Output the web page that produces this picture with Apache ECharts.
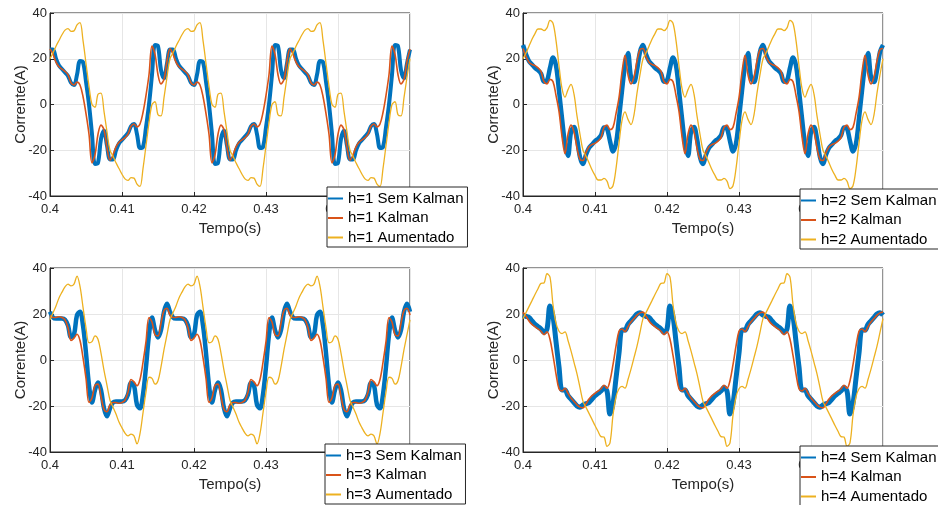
<!DOCTYPE html>
<html>
<head>
<meta charset="utf-8">
<script src="https://cdn.jsdelivr.net/npm/echarts@6/dist/echarts.min.js"></script>
<style>
html,body{margin:0;padding:0;background:#fff;}
#chart{width:938px;height:505px;}
</style>
</head>
<body>
<div id="chart"></div>
<script>
// Time sampling (s)
const tStart = 0.4;
const tStep = 1 / 2400;

// Tick labels
const xTickLabels = ['0.4', '0.41', '0.42', '0.43', '0.44', '0.45'];
const yTickLabels = ['-40', '-20', '0', '20', '40'];

const seriesNames = [
  ['h=1 Sem Kalman', 'h=1 Kalman', 'h=1 Aumentado'],
  ['h=2 Sem Kalman', 'h=2 Kalman', 'h=2 Aumentado'],
  ['h=3 Sem Kalman', 'h=3 Kalman', 'h=3 Aumentado'],
  ['h=4 Sem Kalman', 'h=4 Kalman', 'h=4 Aumentado']
];

// ---- h=1 ----
const semKalman1 = [
24, 24, 20, 17, 15.5, 14, 12.5, 9.5, 8.5, 13, 19, 18.5, 10, 0, -13, -26, -25.5, -15, -11.5, -18,
-24, -24, -20, -17, -15.5, -14, -12.5, -9.5, -8.5, -13, -19, -18.5, -10, 0, 13, 26, 25.5, 15, 11.5, 18,
24, 24, 20, 17, 15.5, 14, 12.5, 9.5, 8.5, 13, 19, 18.5, 10, 0, -13, -26, -25.5, -15, -11.5, -18,
-24, -24, -20, -17, -15.5, -14, -12.5, -9.5, -8.5, -13, -19, -18.5, -10, 0, 13, 26, 25.5, 15, 11.5, 18,
24, 24, 20, 17, 15.5, 14, 12.5, 9.5, 8.5, 13, 19, 18.5, 10, 0, -13, -26, -25.5, -15, -11.5, -18,
-24, -24, -20, -17, -15.5, -14, -12.5, -9.5, -8.5, -13, -19, -18.5, -10, 0, 13, 26, 25.5, 15, 11.5, 18,
24];
const kalman1 = [
24.3, 22, 18.5, 16.5, 15.5, 14.5, 13, 9.5, 8.5, 9.8, 8.5, 3.5, -4, -13, -25.5, -22, -13, -9, -11, -19,
-24.3, -22, -18.5, -16.5, -15.5, -14.5, -13, -9.5, -8.5, -9.8, -8.5, -3.5, 4, 13, 25.5, 22, 13, 9, 11, 19,
24.3, 22, 18.5, 16.5, 15.5, 14.5, 13, 9.5, 8.5, 9.8, 8.5, 3.5, -4, -13, -25.5, -22, -13, -9, -11, -19,
-24.3, -22, -18.5, -16.5, -15.5, -14.5, -13, -9.5, -8.5, -9.8, -8.5, -3.5, 4, 13, 25.5, 22, 13, 9, 11, 19,
24.3, 22, 18.5, 16.5, 15.5, 14.5, 13, 9.5, 8.5, 9.8, 8.5, 3.5, -4, -13, -25.5, -22, -13, -9, -11, -19,
-24.3, -22, -18.5, -16.5, -15.5, -14.5, -13, -9.5, -8.5, -9.8, -8.5, -3.5, 4, 13, 25.5, 22, 13, 9, 11, 19,
24.3];
const aumentado1 = [
20, 22.5, 25.5, 28, 30.5, 32.5, 33.2, 32, 32.2, 34.8, 35.8, 28, 18, 8, 0, -1.2, 4.5, 5, -3, -12,
-20, -22.5, -25.5, -28, -30.5, -32.5, -33.2, -32, -32.2, -34.8, -35.8, -28, -18, -8, 0, 1.2, -4.5, -5, 3, 12,
20, 22.5, 25.5, 28, 30.5, 32.5, 33.2, 32, 32.2, 34.8, 35.8, 28, 18, 8, 0, -1.2, 4.5, 5, -3, -12,
-20, -22.5, -25.5, -28, -30.5, -32.5, -33.2, -32, -32.2, -34.8, -35.8, -28, -18, -8, 0, 1.2, -4.5, -5, 3, 12,
20, 22.5, 25.5, 28, 30.5, 32.5, 33.2, 32, 32.2, 34.8, 35.8, 28, 18, 8, 0, -1.2, 4.5, 5, -3, -12,
-20, -22.5, -25.5, -28, -30.5, -32.5, -33.2, -32, -32.2, -34.8, -35.8, -28, -18, -8, 0, 1.2, -4.5, -5, 3, 12,
20];

// ---- h=2 ----
const semKalman2 = [
26, 22, 19, 17.5, 16, 15, 13.5, 10, 10.5, 16, 20.5, 17, 6, -6, -17, -22.5, -12, -9.8, -15, -23,
-26, -22, -19, -17.5, -16, -15, -13.5, -10, -10.5, -16, -20.5, -17, -6, 6, 17, 22.5, 12, 9.8, 15, 23,
26, 22, 19, 17.5, 16, 15, 13.5, 10, 10.5, 16, 20.5, 17, 6, -6, -17, -22.5, -12, -9.8, -15, -23,
-26, -22, -19, -17.5, -16, -15, -13.5, -10, -10.5, -16, -20.5, -17, -6, 6, 17, 22.5, 12, 9.8, 15, 23,
26, 22, 19, 17.5, 16, 15, 13.5, 10, 10.5, 16, 20.5, 17, 6, -6, -17, -22.5, -12, -9.8, -15, -23,
-26, -22, -19, -17.5, -16, -15, -13.5, -10, -10.5, -16, -20.5, -17, -6, 6, 17, 22.5, 12, 9.8, 15, 23,
26];
const kalman2 = [
24.5, 21, 18.5, 17.5, 17, 16, 14.5, 10, 9, 11, 10, 4, -3, -14, -21.5, -13, -9, -12, -19, -24,
-24.5, -21, -18.5, -17.5, -17, -16, -14.5, -10, -9, -11, -10, -4, 3, 14, 21.5, 13, 9, 12, 19, 24,
24.5, 21, 18.5, 17.5, 17, 16, 14.5, 10, 9, 11, 10, 4, -3, -14, -21.5, -13, -9, -12, -19, -24,
-24.5, -21, -18.5, -17.5, -17, -16, -14.5, -10, -9, -11, -10, -4, 3, 14, 21.5, 13, 9, 12, 19, 24,
24.5, 21, 18.5, 17.5, 17, 16, 14.5, 10, 9, 11, 10, 4, -3, -14, -21.5, -13, -9, -12, -19, -24,
-24.5, -21, -18.5, -17.5, -17, -16, -14.5, -10, -9, -11, -10, -4, 3, 14, 21.5, 13, 9, 12, 19, 24,
24.5];
const aumentado2 = [
20, 22.5, 25.5, 28.5, 31, 33, 33, 32.3, 33.5, 36.8, 35.5, 28, 17, 7, 3.2, 6.5, 8.8, 4.5, -5, -13,
-20, -22.5, -25.5, -28.5, -31, -33, -33, -32.3, -33.5, -36.8, -35.5, -28, -17, -7, -3.2, -6.5, -8.8, -4.5, 5, 13,
20, 22.5, 25.5, 28.5, 31, 33, 33, 32.3, 33.5, 36.8, 35.5, 28, 17, 7, 3.2, 6.5, 8.8, 4.5, -5, -13,
-20, -22.5, -25.5, -28.5, -31, -33, -33, -32.3, -33.5, -36.8, -35.5, -28, -17, -7, -3.2, -6.5, -8.8, -4.5, 5, 13,
20, 22.5, 25.5, 28.5, 31, 33, 33, 32.3, 33.5, 36.8, 35.5, 28, 17, 7, 3.2, 6.5, 8.8, 4.5, -5, -13,
-20, -22.5, -25.5, -28.5, -31, -33, -33, -32.3, -33.5, -36.8, -35.5, -28, -17, -7, -3.2, -6.5, -8.8, -4.5, 5, 13,
20];

// ---- h=3 ----
const semKalman3 = [
21, 18.5, 18, 18, 18, 17.5, 15, 10, 11, 19.5, 21, 15, 3, -11, -18.5, -13, -9.8, -13, -21, -24.5,
-21, -18.5, -18, -18, -18, -17.5, -15, -10, -11, -19.5, -21, -15, -3, 11, 18.5, 13, 9.8, 13, 21, 24.5,
21, 18.5, 18, 18, 18, 17.5, 15, 10, 11, 19.5, 21, 15, 3, -11, -18.5, -13, -9.8, -13, -21, -24.5,
-21, -18.5, -18, -18, -18, -17.5, -15, -10, -11, -19.5, -21, -15, -3, 11, 18.5, 13, 9.8, 13, 21, 24.5,
21, 18.5, 18, 18, 18, 17.5, 15, 10, 11, 19.5, 21, 15, 3, -11, -18.5, -13, -9.8, -13, -21, -24.5,
-21, -18.5, -18, -18, -18, -17.5, -15, -10, -11, -19.5, -21, -15, -3, 11, 18.5, 13, 9.8, 13, 21, 24.5,
21];
const kalman3 = [
19.5, 18.5, 18.5, 18.8, 18.5, 17.5, 14, 8.5, 9.5, 11.2, 8.5, 1, -8, -18.5, -16.5, -11, -10.5, -16, -21.5, -22.5,
-19.5, -18.5, -18.5, -18.8, -18.5, -17.5, -14, -8.5, -9.5, -11.2, -8.5, -1, 8, 18.5, 16.5, 11, 10.5, 16, 21.5, 22.5,
19.5, 18.5, 18.5, 18.8, 18.5, 17.5, 14, 8.5, 9.5, 11.2, 8.5, 1, -8, -18.5, -16.5, -11, -10.5, -16, -21.5, -22.5,
-19.5, -18.5, -18.5, -18.8, -18.5, -17.5, -14, -8.5, -9.5, -11.2, -8.5, -1, 8, 18.5, 16.5, 11, 10.5, 16, 21.5, 22.5,
19.5, 18.5, 18.5, 18.8, 18.5, 17.5, 14, 8.5, 9.5, 11.2, 8.5, 1, -8, -18.5, -16.5, -11, -10.5, -16, -21.5, -22.5,
-19.5, -18.5, -18.5, -18.8, -18.5, -17.5, -14, -8.5, -9.5, -11.2, -8.5, -1, 8, 18.5, 16.5, 11, 10.5, 16, 21.5, 22.5,
19.5];
const aumentado3 = [
17.5, 20.5, 23.5, 27, 29.5, 31.8, 33, 32.2, 33, 36.5, 32, 23, 14, 7.5, 8, 10.5, 9, 3, -4.5, -11,
-17.5, -20.5, -23.5, -27, -29.5, -31.8, -33, -32.2, -33, -36.5, -32, -23, -14, -7.5, -8, -10.5, -9, -3, 4.5, 11,
17.5, 20.5, 23.5, 27, 29.5, 31.8, 33, 32.2, 33, 36.5, 32, 23, 14, 7.5, 8, 10.5, 9, 3, -4.5, -11,
-17.5, -20.5, -23.5, -27, -29.5, -31.8, -33, -32.2, -33, -36.5, -32, -23, -14, -7.5, -8, -10.5, -9, -3, 4.5, 11,
17.5, 20.5, 23.5, 27, 29.5, 31.8, 33, 32.2, 33, 36.5, 32, 23, 14, 7.5, 8, 10.5, 9, 3, -4.5, -11,
-17.5, -20.5, -23.5, -27, -29.5, -31.8, -33, -32.2, -33, -36.5, -32, -23, -14, -7.5, -8, -10.5, -9, -3, 4.5, 11,
17.5];

// ---- h=4 ----
const semKalman4 = [
19.5, 19, 18.5, 17, 15.5, 14.5, 13.5, 12, 13.5, 23.5, 19, 8, -3, -13, -13, -15.5, -17, -18.5, -20, -20.5,
-19.5, -19, -18.5, -17, -15.5, -14.5, -13.5, -12, -13.5, -23.5, -19, -8, 3, 13, 13, 15.5, 17, 18.5, 20, 20.5,
19.5, 19, 18.5, 17, 15.5, 14.5, 13.5, 12, 13.5, 23.5, 19, 8, -3, -13, -13, -15.5, -17, -18.5, -20, -20.5,
-19.5, -19, -18.5, -17, -15.5, -14.5, -13.5, -12, -13.5, -23.5, -19, -8, 3, 13, 13, 15.5, 17, 18.5, 20, 20.5,
19.5, 19, 18.5, 17, 15.5, 14.5, 13.5, 12, 13.5, 23.5, 19, 8, -3, -13, -13, -15.5, -17, -18.5, -20, -20.5,
-19.5, -19, -18.5, -17, -15.5, -14.5, -13.5, -12, -13.5, -23.5, -19, -8, 3, 13, 13, 15.5, 17, 18.5, 20, 20.5,
19.5];
const kalman4 = [
20.8, 19, 17, 15.5, 14.5, 13.5, 12.5, 11, 12.3, 9, 2, -6, -12.5, -13.5, -12.3, -14.5, -16.5, -18, -19.5, -20.5,
-20.8, -19, -17, -15.5, -14.5, -13.5, -12.5, -11, -12.3, -9, -2, 6, 12.5, 13.5, 12.3, 14.5, 16.5, 18, 19.5, 20.5,
20.8, 19, 17, 15.5, 14.5, 13.5, 12.5, 11, 12.3, 9, 2, -6, -12.5, -13.5, -12.3, -14.5, -16.5, -18, -19.5, -20.5,
-20.8, -19, -17, -15.5, -14.5, -13.5, -12.5, -11, -12.3, -9, -2, 6, 12.5, 13.5, 12.3, 14.5, 16.5, 18, 19.5, 20.5,
20.8, 19, 17, 15.5, 14.5, 13.5, 12.5, 11, 12.3, 9, 2, -6, -12.5, -13.5, -12.3, -14.5, -16.5, -18, -19.5, -20.5,
-20.8, -19, -17, -15.5, -14.5, -13.5, -12.5, -11, -12.3, -9, -2, 6, 12.5, 13.5, 12.3, 14.5, 16.5, 18, 19.5, 20.5,
20.8];
const aumentado4 = [
18, 20.6, 23.2, 25.8, 28.5, 31, 33.3, 33.5, 37.5, 36, 24, 16, 12.5, 11.5, 12.2, 8.5, 4, -1, -6, -12,
-18, -20.6, -23.2, -25.8, -28.5, -31, -33.3, -33.5, -37.5, -36, -24, -16, -12.5, -11.5, -12.2, -8.5, -4, 1, 6, 12,
18, 20.6, 23.2, 25.8, 28.5, 31, 33.3, 33.5, 37.5, 36, 24, 16, 12.5, 11.5, 12.2, 8.5, 4, -1, -6, -12,
-18, -20.6, -23.2, -25.8, -28.5, -31, -33.3, -33.5, -37.5, -36, -24, -16, -12.5, -11.5, -12.2, -8.5, -4, 1, 6, 12,
18, 20.6, 23.2, 25.8, 28.5, 31, 33.3, 33.5, 37.5, 36, 24, 16, 12.5, 11.5, 12.2, 8.5, 4, -1, -6, -12,
-18, -20.6, -23.2, -25.8, -28.5, -31, -33.3, -33.5, -37.5, -36, -24, -16, -12.5, -11.5, -12.2, -8.5, -4, 1, 6, 12,
18];

const panelData = [
  [semKalman1, kalman1, aumentado1],
  [semKalman2, kalman2, aumentado2],
  [semKalman3, kalman3, aumentado3],
  [semKalman4, kalman4, aumentado4]
];

// ---------- layout / styles ----------
const FONT = '"Liberation Sans", Arial, Helvetica, sans-serif';
const colors = ['#0072BD', '#D95319', '#EDB120'];
const widths = [4, 1.6, 1.3];
const blueWidths = [4, 4.5, 4.5, 5];
const grids = [
  {left: 50, width: 360, top: 13, height: 183},
  {left: 523, width: 360, top: 13, height: 183},
  {left: 50, width: 360, top: 268, height: 184},
  {left: 523, width: 360, top: 268, height: 184}
];
const legendPos = [
  {left: 327, top: 187},
  {left: 800, top: 189},
  {left: 325, top: 444},
  {left: 800, top: 446}
];

const option = {
  animation: false,
  backgroundColor: '#fff',
  grid: grids.map(g => Object.assign({show: true, borderColor: '#262626', borderWidth: 1, backgroundColor: '#fff'}, g)),
  xAxis: grids.map((g, i) => ({
    type: 'value', gridIndex: i, min: 0.4, max: 0.45, interval: 0.01,
    name: 'Tempo(s)', nameLocation: 'middle', nameGap: 25, nameMoveOverlap: false,
    nameTextStyle: {fontFamily: FONT, fontSize: 15, color: '#262626'},
    axisLine: {show: true, onZero: false, lineStyle: {color: '#262626', width: 1}},
    axisTick: {show: true, inside: true, length: 4, lineStyle: {color: '#262626'}},
    axisLabel: {fontFamily: FONT, fontSize: 13, color: '#262626', margin: 7,
      formatter: v => xTickLabels[Math.round((v - 0.4) / 0.01)]},
    splitLine: {show: true, lineStyle: {color: '#e6e6e6', width: 1}}
  })),
  yAxis: grids.map((g, i) => ({
    type: 'value', gridIndex: i, min: -40, max: 40, interval: 20,
    name: 'Corrente(A)', nameLocation: 'middle', nameGap: 22, nameMoveOverlap: false,
    nameTextStyle: {fontFamily: FONT, fontSize: 15, color: '#262626'},
    axisLine: {show: true, onZero: false, lineStyle: {color: '#262626', width: 1}},
    axisTick: {show: true, inside: true, length: 4, lineStyle: {color: '#262626'}},
    axisLabel: {fontFamily: FONT, fontSize: 13, color: '#262626', margin: 3,
      formatter: v => yTickLabels[Math.round((v + 40) / 20)]},
    splitLine: {show: true, lineStyle: {color: '#e6e6e6', width: 1}}
  })),
  legend: legendPos.map((p, i) => ({
    left: p.left, top: p.top, orient: 'vertical', height: 56,
    data: seriesNames[i],
    icon: 'rect', itemWidth: 15, itemHeight: 2, itemGap: 4.5,
    padding: [4, 4, 2, 1],
    backgroundColor: '#fff', borderColor: '#262626', borderWidth: 1, borderRadius: 0,
    textStyle: {fontFamily: FONT, fontSize: 15, color: '#000', lineHeight: 15},
    selectedMode: false, z: 10
  })),
  series: []
};

panelData.forEach((arrs, i) => {
  arrs.forEach((vals, j) => {
    option.series.push({
      type: 'line', name: seriesNames[i][j], xAxisIndex: i, yAxisIndex: i,
      data: vals.map((v, k) => [tStart + k * tStep, v]),
      showSymbol: false, smooth: 0.35, z: 2 + j,
      lineStyle: {color: colors[j], width: j === 0 ? blueWidths[i] : widths[j]},
      itemStyle: {color: colors[j]}
    });
  });
});

const chart = echarts.init(document.getElementById('chart'), null, {renderer: 'canvas'});
chart.setOption(option);
</script>
</body>
</html>
